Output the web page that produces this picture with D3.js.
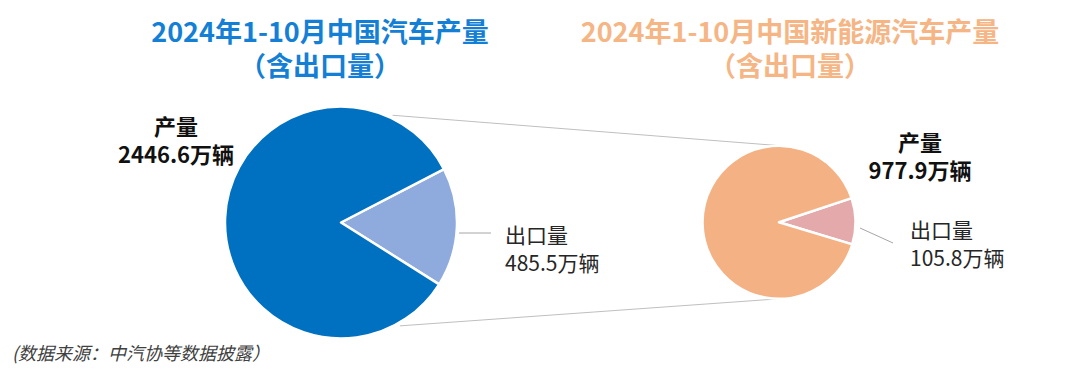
<!DOCTYPE html>
<html>
<head>
<meta charset="utf-8">
<script src="https://cdn.jsdelivr.net/npm/d3@7"></script>
<style>
	body { margin: 0; background: #fff; }
	svg { display: block; font-family: "Noto Sans CJK SC", "Noto Sans", sans-serif; }
</style>
</head>
<body>
<div id="chart"></div>
<script>
const width = 1080, height = 378;

// data
const categories = ["出口量", "产量"];
const allCars = [485.5, 2446.6];   // 万辆
const nevCars = [105.8, 977.9];    // 万辆
const unit = "万辆";
const titleAll = ["2024年1-10月中国汽车产量", "（含出口量）"];
const titleNev = ["2024年1-10月中国新能源汽车产量", "（含出口量）"];
const source = "(数据来源：中汽协等数据披露）";

const deg = Math.PI / 180;

const svg = d3.select("#chart")
	.append("svg")
	.attr("width", width)
	.attr("height", height);

const pies = [
	{values: allCars, cx: 341, cy: 222.5, r: 116, start: 62.6,
	 colors: ["#8FAADC", "#0070C0"], titleColor: "#1380D5", title: titleAll, tx: 320},
	{values: nevCars, cx: 779, cy: 222.3, r: 76.5, start: 71.6,
	 colors: ["#E3A9AB", "#F4B183"], titleColor: "#F5B584", title: titleNev, tx: 790}
];

// point on a circle, angle in degrees clockwise from 12 o'clock
function onCircle(p, a, r) {
	return [p.cx + (r || p.r) * Math.sin(a * deg), p.cy - (r || p.r) * Math.cos(a * deg)];
}

// connector lines between the two pies
const a = pies[0], b = pies[1];
const links = [
	[onCircle(a, 25.7, a.r + 3), onCircle(b, 2)],
	[onCircle(a, 150.3, a.r + 3), onCircle(b, 180)]
];
svg.selectAll(".link")
	.data(links)
	.enter().append("line")
	.attr("class", "link")
	.attr("x1", d => d[0][0]).attr("y1", d => d[0][1])
	.attr("x2", d => d[1][0]).attr("y2", d => d[1][1])
	.attr("stroke", "#BFBFBF")
	.attr("stroke-width", 1);

pies.forEach(function(p) {
	const pie = d3.pie()
		.sort(null)
		.value(d => d)
		.startAngle(p.start * deg)
		.endAngle(p.start * deg + 2 * Math.PI);

	const arc = d3.arc().innerRadius(0).outerRadius(p.r);

	const g = svg.append("g")
		.attr("transform", `translate(${p.cx}, ${p.cy})`);

	g.selectAll("path")
		.data(pie(p.values))
		.enter().append("path")
		.attr("d", arc)
		.attr("fill", (d, i) => p.colors[i])
		.attr("stroke", "#fff")
		.attr("stroke-width", 2.5)
		.attr("stroke-linejoin", "round");

	// titles
	svg.selectAll(null)
		.data(p.title)
		.enter().append("text")
		.attr("x", p.tx)
		.attr("y", (d, i) => 42 + i * 34)
		.attr("text-anchor", "middle")
		.attr("font-size", 27)
		.attr("font-weight", "bold")
		.attr("fill", p.titleColor)
		.text(d => d);
});

// export labels with leader lines
const exportLabels = [
	{x: 505, y: 243, line: [[459, 233], [491, 233]], i: 0, values: allCars},
	{x: 910, y: 238, line: [[860, 228], [893, 243]], i: 0, values: nevCars}
];
exportLabels.forEach(function(l) {
	svg.append("line")
		.attr("x1", l.line[0][0]).attr("y1", l.line[0][1])
		.attr("x2", l.line[1][0]).attr("y2", l.line[1][1])
		.attr("stroke", "#A6A6A6")
		.attr("stroke-width", 1);
	const t = svg.append("text")
		.attr("x", l.x)
		.attr("y", l.y)
		.attr("font-size", 21)
		.attr("fill", "#262626");
	t.append("tspan").attr("x", l.x).text(categories[l.i]);
	t.append("tspan").attr("x", l.x).attr("dy", 28)
		.text(d3.format(".1f")(l.values[l.i]) + unit);
});

// production labels
const prodLabels = [
	{x: 176, y: 135, values: allCars},
	{x: 920, y: 151, values: nevCars}
];
prodLabels.forEach(function(l) {
	const t = svg.append("text")
		.attr("x", l.x)
		.attr("y", l.y)
		.attr("text-anchor", "middle")
		.attr("font-size", 22)
		.attr("font-weight", "bold")
		.attr("fill", "#111");
	t.append("tspan").attr("x", l.x).text(categories[1]);
	t.append("tspan").attr("x", l.x).attr("dy", 28)
		.text(d3.format(".1f")(l.values[1]) + unit);
});

// source note
svg.append("text")
	.attr("x", 12)
	.attr("y", 360)
	.attr("font-size", 18)
	.attr("font-style", "italic")
	.attr("fill", "#404040")
	.text(source);
</script>
</body>
</html>
